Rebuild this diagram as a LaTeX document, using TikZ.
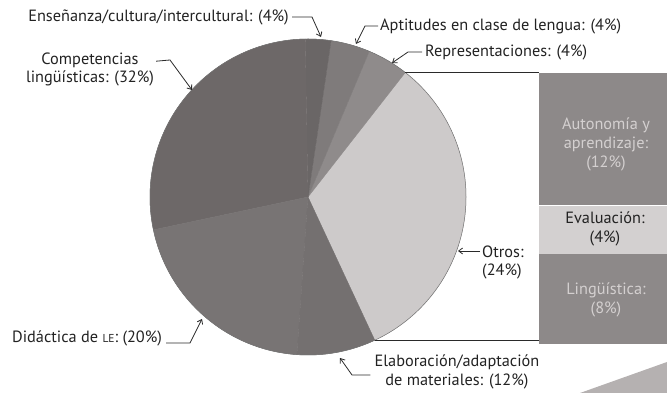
\documentclass[tikz,border=0pt]{standalone}
\usepackage{fontspec}
\setmainfont{PT Sans}
\usetikzlibrary{arrows.meta,calc}
\definecolor{labelgray}{HTML}{222222}
\definecolor{linegray}{HTML}{2A2A2A}
\definecolor{cComp}{HTML}{6D6868}
\definecolor{cEns}{HTML}{6A6666}
\definecolor{cApt}{HTML}{7F7B7B}
\definecolor{cRep}{HTML}{8F8B8B}
\definecolor{cOtros}{HTML}{CDCACA}
\definecolor{cDid}{HTML}{787474}
\definecolor{cElab}{HTML}{747070}
\definecolor{cBoxDark}{HTML}{8D8989}
\definecolor{cBoxLight}{HTML}{D3D0D0}
\definecolor{cCorner}{HTML}{B5B1B1}
\definecolor{boxtext}{HTML}{D4D0D0}
\newcommand{\pieslice}[3]{%
  \filldraw[fill=#3, draw=#3, line width=0.4pt, line join=round] (c) -- ($(c)+(#1:158)$) arc[start angle=#1, end angle=#2, radius=158] -- cycle;}
\begin{document}
\begin{tikzpicture}[x=1pt,y=1pt,
  lbl/.style={font=\fontsize{16.3}{18}\selectfont, text=labelgray, inner sep=0pt},
  boxlbl/.style={font=\fontsize{16.3}{19}\selectfont, inner sep=0pt, align=center},
  conn/.style={draw=linegray, line width=0.8pt, -{Straight Barb[length=4pt,width=6pt]}},
  rule/.style={draw=linegray, line width=1pt},
  catbox/.style={draw=none, inner sep=0pt, anchor=north west, minimum width=128pt}]
\useasboundingbox (0,0) rectangle (667,393);
\coordinate (c) at (308,196);
% pie
\pieslice{-65}{52}{cOtros}
\pieslice{52}{67.2}{cRep}
\pieslice{67.2}{81.6}{cApt}
\pieslice{81.6}{91}{cEns}
\pieslice{91}{192}{cComp}
\pieslice{192}{266}{cDid}
\pieslice{266}{295}{cElab}
\draw[draw=black!55, line width=0.5pt] (c) circle[radius=158];
\coordinate (ptop) at ($(c)+(52:158)$);
\coordinate (pbot) at ($(c)+(-65:158)$);
% boxes
\node[catbox, fill=cBoxDark, minimum height=132pt] (auto) at (539,320) {};
\node[catbox, fill=cBoxLight, minimum height=48pt] (eval) at (auto.south west) {};
\node[catbox, fill=cBoxDark, minimum height=90pt] (ling) at (eval.south west) {};
\node[boxlbl, text=boxtext] (autot) at (606,249) {Autonomía y\\aprendizaje:\\(12\%)};
\node[boxlbl, text=labelgray] (evalt) at (605,164) {Evaluación:\\(4\%)};
\node[boxlbl, text=boxtext] (lingt) at (606,93) {Lingüística:\\(8\%)};
\draw[rule] (ptop) -- (ptop -| auto.north west);
\draw[rule] (pbot) -- (pbot -| ling.south west);
% corner shape
\fill[cCorner] (580,0) -- (667,31) -- (667,0) -- cycle;
% labels
\node[lbl, anchor=east] (ens) at (289,376) {Enseñanza/cultura/intercultural: (4\%)};
\node[lbl, align=center] (comp) at (90,324) {Competencias\\lingüísticas: (32\%)};
\node[lbl, anchor=west] (apt) at (380,367) {Aptitudes en clase de lengua: (4\%)};
\node[lbl, anchor=west] (rep) at (425,341) {Representaciones: (4\%)};
\node[lbl, align=left, anchor=west] (otros) at (482,131) {Otros:\\(24\%)};
\node[lbl, anchor=west] (did) at (12,55) {Didáctica de {\fontsize{11.5}{10}\selectfont LE}: (20\%)};
\node[lbl, align=center, font=\fontsize{16.3}{19.5}\selectfont] (elab) at (457,21) {Elaboración/adaptación\\de materiales: (12\%)};
% connectors
\coordinate (ensA) at (312,376); \coordinate (ensT) at (321,356);
\draw[conn] (ens.east) ++(3,0) -- (ensA) -- (ensT);
\coordinate (compA) at (170,333); \coordinate (compT) at (192,303);
\draw[conn] (comp.north east) ++(2,-9) -- (compA) -- (compT);
\coordinate (aptA) at (365,367); \coordinate (aptT) at (356,349);
\draw[conn] (apt.west) ++(-2,0) -- (aptA) -- (aptT);
\coordinate (repA) at (408,341); \coordinate (repT) at (392,330);
\draw[conn] (rep.west) ++(-3,0) -- (repA) -- (repT);
\coordinate (otrosT) at (458,142);
\draw[conn] (otros.west |- otrosT) ++(-2,0) -- (otrosT);
\coordinate (didA) at (190,50); \coordinate (didT) at (202,74);
\draw[conn] (did.east |- didA) ++(4,0) -- (didA) -- (didT);
\coordinate (elabA) at (352,18); \coordinate (elabT) at (340,35);
\draw[conn] (elab.west |- elabA) ++(-4,0) -- (elabA) -- (elabT);
\end{tikzpicture}
\end{document}
